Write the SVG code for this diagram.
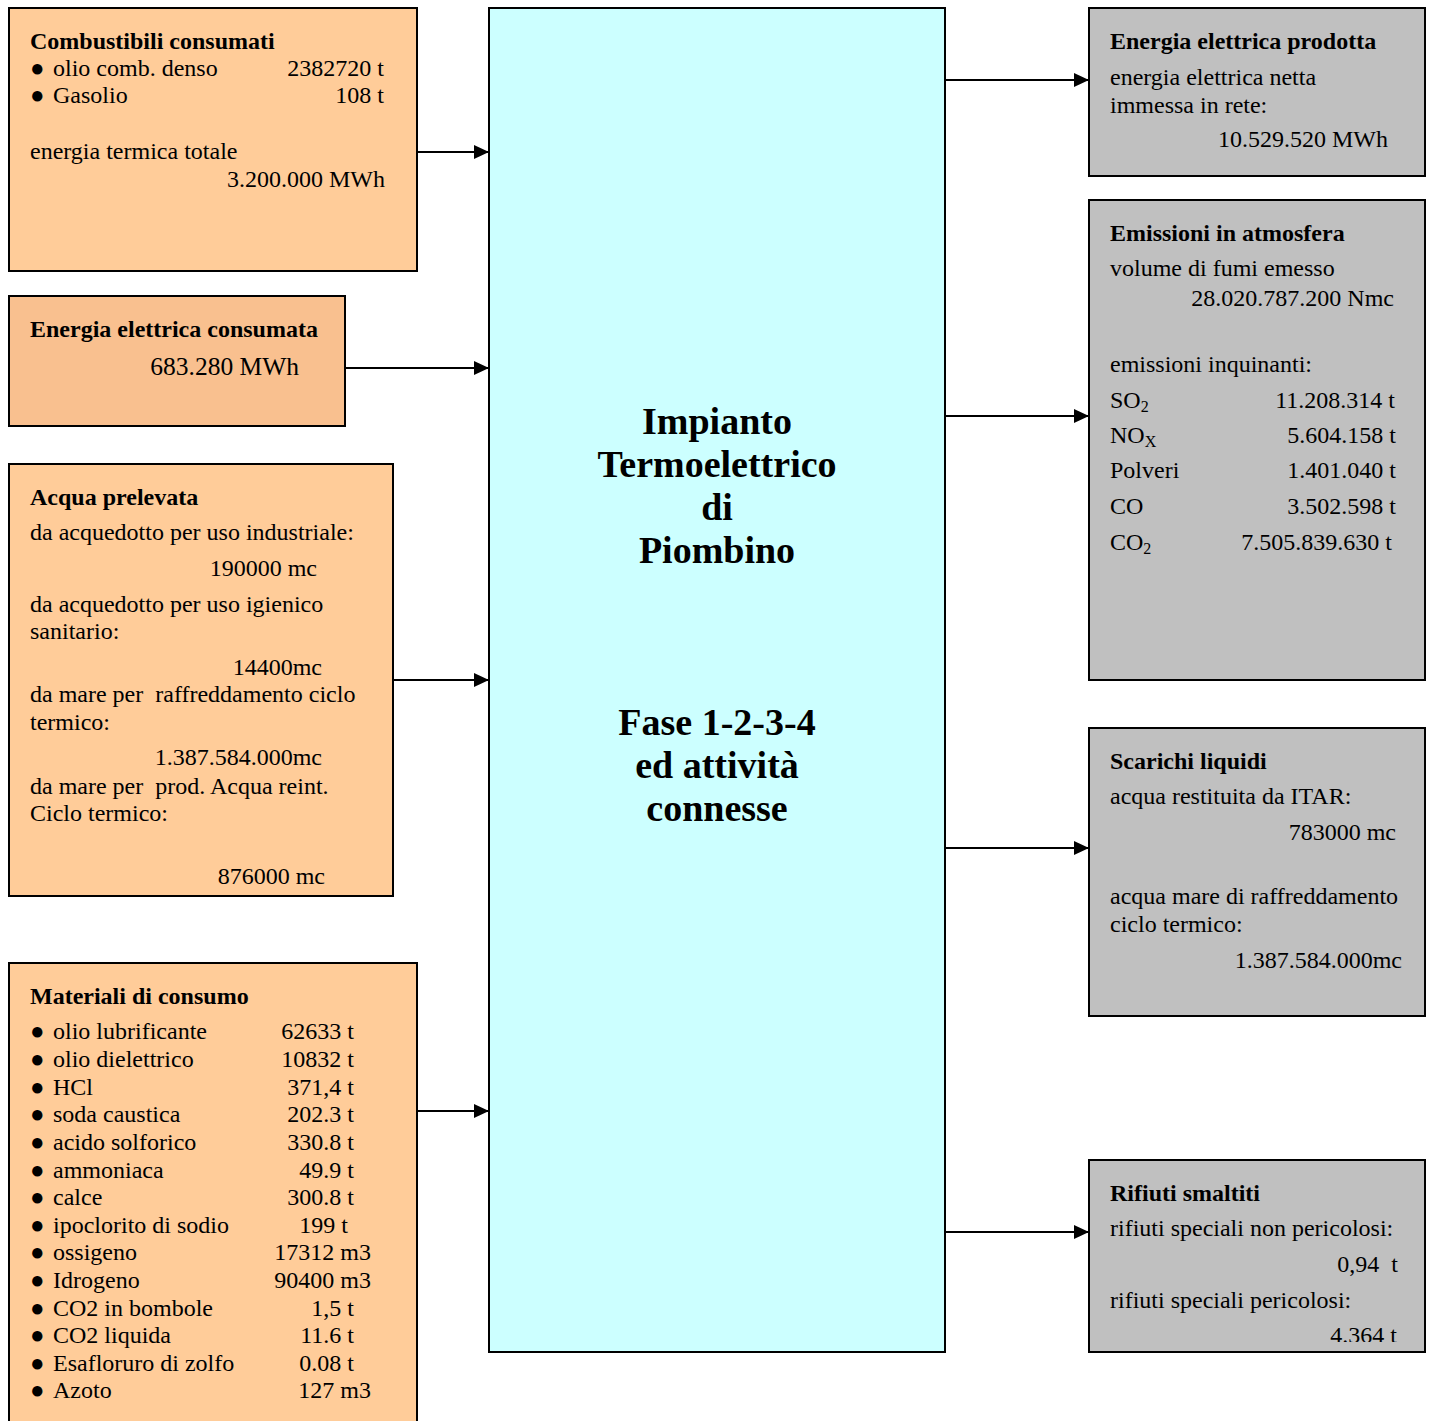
<svg xmlns="http://www.w3.org/2000/svg" width="1431" height="1421" viewBox="0 0 1431 1421">
<style>
text{font-family:"Liberation Serif","Times New Roman",serif;font-size:24px;fill:#000}
.b{font-weight:bold}
.r{text-anchor:end}
.big{font-size:38px;font-weight:bold;text-anchor:middle}
.in{fill:#FFCC99;stroke:#000;stroke-width:2}
.out{fill:#C0C0C0;stroke:#000;stroke-width:2}
.ctr{fill:#CCFFFF;stroke:#000;stroke-width:2}
.c line{stroke:#000;stroke-width:2;marker-end:url(#ah)}
.sub{font-size:16px}
.bl{font-size:24px}
</style>
<defs>
<marker id="ah" markerWidth="15" markerHeight="14" refX="15" refY="7" orient="auto" markerUnits="userSpaceOnUse">
<path d="M0,0 L15,7 L0,14 Z" fill="#000"/>
</marker>
<clipPath id="clipR4"><rect x="1089" y="1160" width="336" height="182"/></clipPath>
</defs>
<rect width="1431" height="1421" fill="#fff"/>

<g id="connectors" class="c">
<line x1="417" y1="152" x2="489" y2="152"/>
<line x1="345" y1="368" x2="489" y2="368"/>
<line x1="393" y1="680" x2="489" y2="680"/>
<line x1="417" y1="1111" x2="489" y2="1111"/>
<line x1="945" y1="80" x2="1089" y2="80"/>
<line x1="945" y1="416" x2="1089" y2="416"/>
<line x1="945" y1="848" x2="1089" y2="848"/>
<line x1="945" y1="1232" x2="1089" y2="1232"/>
</g>

<g id="combustibili">
<rect class="in" x="9" y="8" width="408" height="263"/>
<text class="b" x="30" y="49">Combustibili consumati</text>
<text x="30" y="76"><tspan class="bl">●</tspan><tspan x="53">olio comb. denso</tspan></text>
<text class="r" x="384" y="76">2382720 t</text>
<text x="30" y="103"><tspan class="bl">●</tspan><tspan x="53">Gasolio</tspan></text>
<text class="r" x="384" y="103">108 t</text>
<text x="30" y="159">energia termica totale</text>
<text class="r" x="385" y="187">3.200.000 MWh</text>
</g>

<g id="energia-consumata">
<rect class="in" x="9" y="296" width="336" height="130" style="fill:#F9C08F"/>
<text class="b" x="30" y="337">Energia elettrica consumata</text>
<text class="r" x="299" y="375" style="font-size:25.5px">683.280 MWh</text>
</g>

<g id="acqua">
<rect class="in" x="9" y="464" width="384" height="432"/>
<text class="b" x="30" y="505">Acqua prelevata</text>
<text x="30" y="540">da acquedotto per uso industriale:</text>
<text class="r" x="317" y="576">190000 mc</text>
<text x="30" y="612">da acquedotto per uso igienico</text>
<text x="30" y="639">sanitario:</text>
<text class="r" x="322" y="675">14400mc</text>
<text x="30" y="702" xml:space="preserve">da mare per  raffreddamento ciclo</text>
<text x="30" y="730">termico:</text>
<text class="r" x="322" y="765">1.387.584.000mc</text>
<text x="30" y="794" xml:space="preserve">da mare per  prod. Acqua reint.</text>
<text x="30" y="821">Ciclo termico:</text>
<text class="r" x="325" y="884">876000 mc</text>
</g>

<g id="materiali">
<rect class="in" x="9" y="963" width="408" height="470"/>
<text class="b" x="30" y="1004">Materiali di consumo</text>
<g>
<text x="30" y="1039"><tspan class="bl">●</tspan><tspan x="53">olio lubrificante</tspan></text><text class="r" x="354" y="1039">62633 t</text>
<text x="30" y="1067"><tspan class="bl">●</tspan><tspan x="53">olio dielettrico</tspan></text><text class="r" x="354" y="1067">10832 t</text>
<text x="30" y="1095"><tspan class="bl">●</tspan><tspan x="53">HCl</tspan></text><text class="r" x="354" y="1095">371,4 t</text>
<text x="30" y="1122"><tspan class="bl">●</tspan><tspan x="53">soda caustica</tspan></text><text class="r" x="354" y="1122">202.3 t</text>
<text x="30" y="1150"><tspan class="bl">●</tspan><tspan x="53">acido solforico</tspan></text><text class="r" x="354" y="1150">330.8 t</text>
<text x="30" y="1178"><tspan class="bl">●</tspan><tspan x="53">ammoniaca</tspan></text><text class="r" x="354" y="1178">49.9 t</text>
<text x="30" y="1205"><tspan class="bl">●</tspan><tspan x="53">calce</tspan></text><text class="r" x="354" y="1205">300.8 t</text>
<text x="30" y="1233"><tspan class="bl">●</tspan><tspan x="53">ipoclorito di sodio</tspan></text><text class="r" x="348" y="1233">199 t</text>
<text x="30" y="1260"><tspan class="bl">●</tspan><tspan x="53">ossigeno</tspan></text><text class="r" x="371" y="1260">17312 m3</text>
<text x="30" y="1288"><tspan class="bl">●</tspan><tspan x="53">Idrogeno</tspan></text><text class="r" x="371" y="1288">90400 m3</text>
<text x="30" y="1316"><tspan class="bl">●</tspan><tspan x="53">CO2 in bombole</tspan></text><text class="r" x="354" y="1316">1,5 t</text>
<text x="30" y="1343"><tspan class="bl">●</tspan><tspan x="53">CO2 liquida</tspan></text><text class="r" x="354" y="1343">11.6 t</text>
<text x="30" y="1371"><tspan class="bl">●</tspan><tspan x="53">Esafloruro di zolfo</tspan></text><text class="r" x="354" y="1371">0.08 t</text>
<text x="30" y="1398"><tspan class="bl">●</tspan><tspan x="53">Azoto</tspan></text><text class="r" x="371" y="1398">127 m3</text>
</g>
</g>

<g id="impianto">
<rect class="ctr" x="489" y="8" width="456" height="1344"/>
<text class="big" x="717" y="434">Impianto</text>
<text class="big" x="717" y="477">Termoelettrico</text>
<text class="big" x="717" y="520">di</text>
<text class="big" x="717" y="563">Piombino</text>
<text class="big" x="717" y="735">Fase 1-2-3-4</text>
<text class="big" x="717" y="778">ed attività</text>
<text class="big" x="717" y="821">connesse</text>
</g>

<g id="energia-prodotta">
<rect class="out" x="1089" y="8" width="336" height="168"/>
<text class="b" x="1110" y="49">Energia elettrica prodotta</text>
<text x="1110" y="85">energia elettrica netta</text>
<text x="1110" y="113">immessa in rete:</text>
<text class="r" x="1388" y="147">10.529.520 MWh</text>
</g>

<g id="emissioni">
<rect class="out" x="1089" y="200" width="336" height="480"/>
<text class="b" x="1110" y="241">Emissioni in atmosfera</text>
<text x="1110" y="276">volume di fumi emesso</text>
<text class="r" x="1394" y="306">28.020.787.200 Nmc</text>
<text x="1110" y="372">emissioni inquinanti:</text>
<text x="1110" y="408">SO<tspan class="sub" dy="4">2</tspan></text><text class="r" x="1395" y="408">11.208.314 t</text>
<text x="1110" y="443">NO<tspan class="sub" dy="4">X</tspan></text><text class="r" x="1396" y="443">5.604.158 t</text>
<text x="1110" y="478">Polveri</text><text class="r" x="1396" y="478">1.401.040 t</text>
<text x="1110" y="514">CO</text><text class="r" x="1396" y="514">3.502.598 t</text>
<text x="1110" y="550">CO<tspan class="sub" dy="4">2</tspan></text><text class="r" x="1392" y="550">7.505.839.630 t</text>
</g>

<g id="scarichi">
<rect class="out" x="1089" y="728" width="336" height="288"/>
<text class="b" x="1110" y="769">Scarichi liquidi</text>
<text x="1110" y="804">acqua restituita da ITAR:</text>
<text class="r" x="1396" y="840">783000 mc</text>
<text x="1110" y="904">acqua mare di raffreddamento</text>
<text x="1110" y="932">ciclo termico:</text>
<text class="r" x="1402" y="968">1.387.584.000mc</text>
</g>

<g id="rifiuti">
<rect class="out" x="1089" y="1160" width="336" height="192"/>
<text class="b" x="1110" y="1201">Rifiuti smaltiti</text>
<text x="1110" y="1236">rifiuti speciali non pericolosi:</text>
<text class="r" x="1398" y="1272" xml:space="preserve">0,94  t</text>
<text x="1110" y="1308">rifiuti speciali pericolosi:</text>
<text class="r" x="1397" y="1343" clip-path="url(#clipR4)">4.364 t</text>
</g>
</svg>
